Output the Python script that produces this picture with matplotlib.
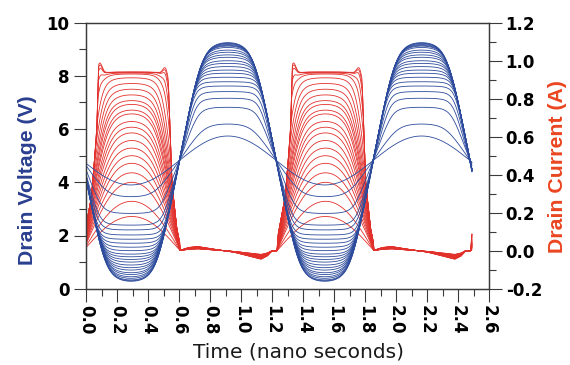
import numpy as np
import matplotlib
matplotlib.use("Agg")
import matplotlib.pyplot as plt
from matplotlib.ticker import MultipleLocator, FormatStrFormatter

# drive sweep: trough / peak of each drain-voltage trace (V)
v_trough = [3.90, 3.46, 2.83, 2.39, 2.21, 2.02, 1.86, 1.71, 1.56, 1.43, 1.30, 1.20,
            1.10, 1.00, 0.89, 0.79, 0.70, 0.60, 0.53, 0.45, 0.39, 0.33, 0.30, 0.28]
v_peak = [5.74, 6.19, 6.82, 7.16, 7.41, 7.62, 7.78, 7.95, 8.10, 8.22, 8.35, 8.47,
          8.57, 8.70, 8.79, 8.89, 8.97, 9.07, 9.12, 9.15, 9.18, 9.21, 9.23, 9.25]
# peak drain current of each trace (A), how hard it is clipped, edge overshoot
i_peak = [0.18, 0.26, 0.36, 0.41, 0.46, 0.50, 0.54, 0.58, 0.62, 0.65, 0.68, 0.72,
          0.74, 0.77, 0.79, 0.82, 0.85, 0.88, 0.91, 0.93, 0.935, 0.94, 0.94, 0.94]
i_sharp = [1.02, 1.03, 1.05, 1.07, 1.09, 1.11, 1.13, 1.15, 1.18, 1.21, 1.24, 1.27,
           1.30, 1.34, 1.38, 1.43, 1.50, 1.60, 1.75, 2.0, 2.3, 2.6, 2.8, 3.0]
i_overshoot = [0.0] * 19 + [0.02, 0.03, 0.045, 0.055, 0.06]

# switching edges shared by all current traces (time in ns within one period)
edge_t = [-0.05, -0.03, 0.0, 0.035, 0.07, 0.10, 0.50, 0.53, 0.555, 0.585, 0.615, 0.64]
edge_i = [0.0, 0.0, 0.13, 0.28, 0.62, 1.4, 1.4, 0.9, 0.35, 0.12, 0.0, 0.0]
# off-state current drift
off_t = [0.60, 0.66, 0.72, 0.80, 0.95, 1.08, 1.13, 1.17, 1.20]
off_i = [0.0, 0.012, 0.016, 0.008, -0.005, -0.025, -0.032, -0.02, 0.0]

period = 1.25
t = np.linspace(0.0, 2.49, 1200)
tp = (t + 0.05) % period - 0.05


def sat(y, lim, p=6):
    return y / (1 + np.abs(y / lim) ** p) ** (1.0 / p)


def sat_limit(gain, amp, p=6):
    return gain / ((gain / amp) ** p - 1) ** (1.0 / p)


n = len(v_peak)
volts = []
for lo, hi in zip(v_trough, v_peak):
    c = (hi + lo) / 2
    a = (hi - lo) / 2
    gain = np.clip(a * (1 + 0.5 * (a - 0.9)), 1.01 * a, 5.8)
    u = -np.cos(2 * np.pi * (t - 0.29) / period)
    volts.append(c + sat(gain * u, sat_limit(gain, a)))

edge = np.interp(tp, edge_t, edge_i)
drift = np.interp(tp, off_t, off_i, left=0.0, right=0.0)
bump = (np.exp(-((tp - 0.087) / 0.022) ** 2)
        + 0.7 * np.exp(-((tp - 0.513) / 0.022) ** 2))
currents = []
for k, (ip, sh, ov) in enumerate(zip(i_peak, i_sharp, i_overshoot)):
    gain = ip * sh
    w = np.maximum(np.cos(2 * np.pi * (t - 0.295) / period), 0)
    own = sat(gain * w, sat_limit(gain, ip))
    cur = np.minimum(edge, own) + ov * bump + drift * (0.6 + 0.8 * k / (n - 1))
    currents.append(cur)

blue = "#2d4b9c"
red = "#e2302b"
frame = "#3a3a3a"

fig = plt.figure(figsize=(5.7, 3.65), dpi=100)
ax_i = fig.add_axes([86 / 570, 1 - 288.7 / 365, 403 / 570, 266 / 365])
ax_v = ax_i.twinx()

for cur in currents:
    ax_i.plot(t, cur, color=red, lw=0.6)
for v in volts:
    ax_v.plot(t, v, color=blue, lw=0.6)

ax_i.set_xlim(0, 2.6)
ax_i.set_ylim(-0.2, 1.2)
ax_v.set_ylim(0, 10)

ax_v.yaxis.tick_left()
ax_v.yaxis.set_label_position("left")
ax_i.yaxis.tick_right()
ax_i.yaxis.set_label_position("right")

ax_i.xaxis.set_major_locator(MultipleLocator(0.2))
ax_i.xaxis.set_minor_locator(MultipleLocator(0.1))
ax_i.xaxis.set_major_formatter(FormatStrFormatter("%.1f"))
ax_i.yaxis.set_major_locator(MultipleLocator(0.2))
ax_i.yaxis.set_minor_locator(MultipleLocator(0.1))
ax_i.yaxis.set_major_formatter(FormatStrFormatter("%.1f"))
ax_v.yaxis.set_major_locator(MultipleLocator(2))
ax_v.yaxis.set_minor_locator(MultipleLocator(1))

tick_font = dict(family="DejaVu Sans", weight="bold", size=12)
for ax in (ax_i, ax_v):
    ax.tick_params(which="major", direction="out", length=9, width=0.8, color=frame, pad=3)
    ax.tick_params(which="minor", direction="out", length=5, width=0.8, color=frame)
    for s in ax.spines.values():
        s.set_color(frame)
        s.set_linewidth(0.9)
for lab in ax_i.get_xticklabels():
    lab.set(rotation=-90, **tick_font)
for lab in ax_i.get_yticklabels() + ax_v.get_yticklabels():
    lab.set(**tick_font)

ax_v.set_ylabel("Drain Voltage (V)", color="#2a3f8f", fontsize=15.3,
                fontweight="bold", family="Liberation Sans")
ax_v.yaxis.set_label_coords(-0.1216, 0.409)
ax_i.set_ylabel("Drain Current (A)", color="#ea4520", fontsize=15.3,
                fontweight="bold", family="Liberation Sans")
ax_i.yaxis.set_label_coords(1.146, 0.461)
ax_i.set_xlabel("Time (nano seconds)", fontsize=14.5, family="DejaVu Sans", color="#1a1a1a")
ax_i.xaxis.set_label_coords(0.5285, -0.204)

fig.savefig("out.png", dpi=100)
